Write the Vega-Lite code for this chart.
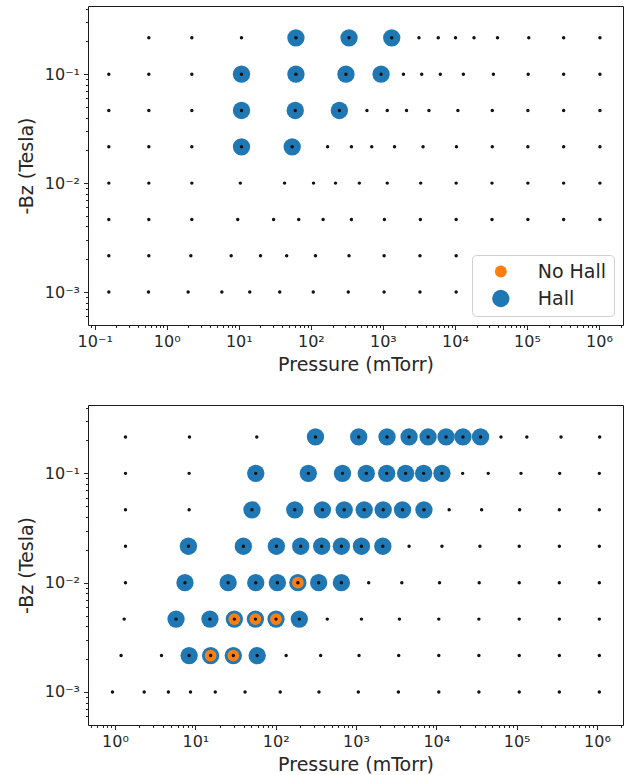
{
  "$schema": "https://vega.github.io/schema/vega-lite/v6.json",
  "autosize": {"type": "pad"},
  "padding": {"left": 16, "top": 0, "right": 5, "bottom": 2},
  "background": "white",
  "bounds": "flush",
  "spacing": 80,
  "config": {
    "font": "DejaVu Sans",
    "view": {"stroke": "#1a1a1a", "strokeWidth": 1},
    "axis": {
      "grid": false, "domain": false,
      "labelFont": "DejaVu Sans", "labelFontSize": 16, "labelColor": "#262626",
      "tickColor": "#262626", "tickWidth": 1,
      "titleFont": "DejaVu Sans", "titleFontSize": 19, "titleFontWeight": "normal", "titleColor": "#262626",
      "labelOverlap": false, "labelFlush": false, "labelPadding": 4
    },
    "legend": {
      "orient": "bottom-right", "offset": 9.5, "title": null,
      "labelFont": "DejaVu Sans", "labelFontSize": 19, "labelColor": "#262626",
      "padding": 7, "strokeColor": "#d0d0d0", "fillColor": "white", "cornerRadius": 4,
      "symbolOffset": 12.3, "labelOffset": 27.4, "rowPadding": 7,
      "symbolType": "circle", "symbolStrokeWidth": 0, "symbolOpacity": 1
    }
  },
  "datasets": {
    "top": [
      {"P": 62.1, "Bz": 0.2154, "case": "Hall"}, {"P": 339, "Bz": 0.2154, "case": "Hall"}, {"P": 1327, "Bz": 0.2154, "case": "Hall"},
      {"P": 10.9, "Bz": 0.1, "case": "Hall"}, {"P": 62.1, "Bz": 0.1, "case": "Hall"}, {"P": 307, "Bz": 0.1, "case": "Hall"}, {"P": 944, "Bz": 0.1, "case": "Hall"},
      {"P": 10.9, "Bz": 0.04642, "case": "Hall"}, {"P": 60.8, "Bz": 0.04642, "case": "Hall"}, {"P": 249, "Bz": 0.04642, "case": "Hall"},
      {"P": 10.9, "Bz": 0.02154, "case": "Hall"}, {"P": 55.1, "Bz": 0.02154, "case": "Hall"},

      {"P": 0.564, "Bz": 0.2154, "case": "grid"}, {"P": 2.23, "Bz": 0.2154, "case": "grid"}, {"P": 10.9, "Bz": 0.2154, "case": "grid"}, {"P": 62.1, "Bz": 0.2154, "case": "grid"}, {"P": 339, "Bz": 0.2154, "case": "grid"}, {"P": 1327, "Bz": 0.2154, "case": "grid"}, {"P": 3170, "Bz": 0.2154, "case": "grid"}, {"P": 5870, "Bz": 0.2154, "case": "grid"}, {"P": 10200, "Bz": 0.2154, "case": "grid"}, {"P": 18400, "Bz": 0.2154, "case": "grid"}, {"P": 39000, "Bz": 0.2154, "case": "grid"}, {"P": 106000, "Bz": 0.2154, "case": "grid"}, {"P": 323000, "Bz": 0.2154, "case": "grid"}, {"P": 1030000, "Bz": 0.2154, "case": "grid"},

      {"P": 0.157, "Bz": 0.1, "case": "grid"}, {"P": 0.564, "Bz": 0.1, "case": "grid"}, {"P": 2.23, "Bz": 0.1, "case": "grid"}, {"P": 10.9, "Bz": 0.1, "case": "grid"}, {"P": 62.1, "Bz": 0.1, "case": "grid"}, {"P": 307, "Bz": 0.1, "case": "grid"}, {"P": 944, "Bz": 0.1, "case": "grid"}, {"P": 1930, "Bz": 0.1, "case": "grid"}, {"P": 3460, "Bz": 0.1, "case": "grid"}, {"P": 6270, "Bz": 0.1, "case": "grid"}, {"P": 13100, "Bz": 0.1, "case": "grid"}, {"P": 34200, "Bz": 0.1, "case": "grid"}, {"P": 104000, "Bz": 0.1, "case": "grid"}, {"P": 323000, "Bz": 0.1, "case": "grid"}, {"P": 1030000, "Bz": 0.1, "case": "grid"},

      {"P": 0.157, "Bz": 0.04642, "case": "grid"}, {"P": 0.564, "Bz": 0.04642, "case": "grid"}, {"P": 2.23, "Bz": 0.04642, "case": "grid"}, {"P": 10.9, "Bz": 0.04642, "case": "grid"}, {"P": 60.8, "Bz": 0.04642, "case": "grid"}, {"P": 249, "Bz": 0.04642, "case": "grid"}, {"P": 601, "Bz": 0.04642, "case": "grid"}, {"P": 1150, "Bz": 0.04642, "case": "grid"}, {"P": 2130, "Bz": 0.04642, "case": "grid"}, {"P": 4360, "Bz": 0.04642, "case": "grid"}, {"P": 11000, "Bz": 0.04642, "case": "grid"}, {"P": 33000, "Bz": 0.04642, "case": "grid"}, {"P": 103000, "Bz": 0.04642, "case": "grid"}, {"P": 323000, "Bz": 0.04642, "case": "grid"}, {"P": 1030000, "Bz": 0.04642, "case": "grid"},

      {"P": 0.157, "Bz": 0.02154, "case": "grid"}, {"P": 0.564, "Bz": 0.02154, "case": "grid"}, {"P": 2.23, "Bz": 0.02154, "case": "grid"}, {"P": 10.9, "Bz": 0.02154, "case": "grid"}, {"P": 55.1, "Bz": 0.02154, "case": "grid"}, {"P": 171, "Bz": 0.02154, "case": "grid"}, {"P": 366, "Bz": 0.02154, "case": "grid"}, {"P": 701, "Bz": 0.02154, "case": "grid"}, {"P": 1450, "Bz": 0.02154, "case": "grid"}, {"P": 3610, "Bz": 0.02154, "case": "grid"}, {"P": 10500, "Bz": 0.02154, "case": "grid"}, {"P": 33000, "Bz": 0.02154, "case": "grid"}, {"P": 103000, "Bz": 0.02154, "case": "grid"}, {"P": 323000, "Bz": 0.02154, "case": "grid"}, {"P": 1030000, "Bz": 0.02154, "case": "grid"},

      {"P": 0.157, "Bz": 0.01, "case": "grid"}, {"P": 0.564, "Bz": 0.01, "case": "grid"}, {"P": 2.23, "Bz": 0.01, "case": "grid"}, {"P": 10.5, "Bz": 0.01, "case": "grid"}, {"P": 43.2, "Bz": 0.01, "case": "grid"}, {"P": 109, "Bz": 0.01, "case": "grid"}, {"P": 220, "Bz": 0.01, "case": "grid"}, {"P": 471, "Bz": 0.01, "case": "grid"}, {"P": 1150, "Bz": 0.01, "case": "grid"}, {"P": 3350, "Bz": 0.01, "case": "grid"}, {"P": 10400, "Bz": 0.01, "case": "grid"}, {"P": 32700, "Bz": 0.01, "case": "grid"}, {"P": 103000, "Bz": 0.01, "case": "grid"}, {"P": 323000, "Bz": 0.01, "case": "grid"}, {"P": 1030000, "Bz": 0.01, "case": "grid"},

      {"P": 0.157, "Bz": 0.004642, "case": "grid"}, {"P": 0.564, "Bz": 0.004642, "case": "grid"}, {"P": 2.23, "Bz": 0.004642, "case": "grid"}, {"P": 9.67, "Bz": 0.004642, "case": "grid"}, {"P": 30.4, "Bz": 0.004642, "case": "grid"}, {"P": 67.9, "Bz": 0.004642, "case": "grid"}, {"P": 148, "Bz": 0.004642, "case": "grid"}, {"P": 366, "Bz": 0.004642, "case": "grid"}, {"P": 1050, "Bz": 0.004642, "case": "grid"}, {"P": 3310, "Bz": 0.004642, "case": "grid"}, {"P": 10400, "Bz": 0.004642, "case": "grid"}, {"P": 32700, "Bz": 0.004642, "case": "grid"}, {"P": 103000, "Bz": 0.004642, "case": "grid"}, {"P": 323000, "Bz": 0.004642, "case": "grid"}, {"P": 1030000, "Bz": 0.004642, "case": "grid"},

      {"P": 0.157, "Bz": 0.002154, "case": "grid"}, {"P": 0.564, "Bz": 0.002154, "case": "grid"}, {"P": 2.16, "Bz": 0.002154, "case": "grid"}, {"P": 7.84, "Bz": 0.002154, "case": "grid"}, {"P": 20.0, "Bz": 0.002154, "case": "grid"}, {"P": 46.2, "Bz": 0.002154, "case": "grid"}, {"P": 116, "Bz": 0.002154, "case": "grid"}, {"P": 339, "Bz": 0.002154, "case": "grid"}, {"P": 1040, "Bz": 0.002154, "case": "grid"}, {"P": 3270, "Bz": 0.002154, "case": "grid"}, {"P": 10400, "Bz": 0.002154, "case": "grid"},

      {"P": 0.157, "Bz": 0.001, "case": "grid"}, {"P": 0.558, "Bz": 0.001, "case": "grid"}, {"P": 1.98, "Bz": 0.001, "case": "grid"}, {"P": 5.82, "Bz": 0.001, "case": "grid"}, {"P": 14.2, "Bz": 0.001, "case": "grid"}, {"P": 37.0, "Bz": 0.001, "case": "grid"}, {"P": 108, "Bz": 0.001, "case": "grid"}, {"P": 331, "Bz": 0.001, "case": "grid"}, {"P": 1040, "Bz": 0.001, "case": "grid"}, {"P": 3270, "Bz": 0.001, "case": "grid"}, {"P": 10400, "Bz": 0.001, "case": "grid"}
    ],
    "bottom": [
      {"P": 313, "Bz": 0.2154, "case": "Hall"}, {"P": 1081, "Bz": 0.2154, "case": "Hall"}, {"P": 2433, "Bz": 0.2154, "case": "Hall"}, {"P": 4580, "Bz": 0.2154, "case": "Hall"}, {"P": 7900, "Bz": 0.2154, "case": "Hall"}, {"P": 13220, "Bz": 0.2154, "case": "Hall"}, {"P": 21470, "Bz": 0.2154, "case": "Hall"}, {"P": 35540, "Bz": 0.2154, "case": "Hall"},
      {"P": 56.5, "Bz": 0.1, "case": "Hall"}, {"P": 255, "Bz": 0.1, "case": "Hall"}, {"P": 679, "Bz": 0.1, "case": "Hall"}, {"P": 1344, "Bz": 0.1, "case": "Hall"}, {"P": 2410, "Bz": 0.1, "case": "Hall"}, {"P": 4150, "Bz": 0.1, "case": "Hall"}, {"P": 6950, "Bz": 0.1, "case": "Hall"}, {"P": 11750, "Bz": 0.1, "case": "Hall"},
      {"P": 50.7, "Bz": 0.04642, "case": "Hall"}, {"P": 173, "Bz": 0.04642, "case": "Hall"}, {"P": 382, "Bz": 0.04642, "case": "Hall"}, {"P": 713, "Bz": 0.04642, "case": "Hall"}, {"P": 1265, "Bz": 0.04642, "case": "Hall"}, {"P": 2181, "Bz": 0.04642, "case": "Hall"}, {"P": 3796, "Bz": 0.04642, "case": "Hall"}, {"P": 7015, "Bz": 0.04642, "case": "Hall"},
      {"P": 8.2, "Bz": 0.02154, "case": "Hall"}, {"P": 39.6, "Bz": 0.02154, "case": "Hall"}, {"P": 102, "Bz": 0.02154, "case": "Hall"}, {"P": 205, "Bz": 0.02154, "case": "Hall"}, {"P": 374, "Bz": 0.02154, "case": "Hall"}, {"P": 658, "Bz": 0.02154, "case": "Hall"}, {"P": 1169, "Bz": 0.02154, "case": "Hall"}, {"P": 2159, "Bz": 0.02154, "case": "Hall"},
      {"P": 7.43, "Bz": 0.01, "case": "Hall"}, {"P": 25.6, "Bz": 0.01, "case": "Hall"}, {"P": 56.5, "Bz": 0.01, "case": "Hall"}, {"P": 105, "Bz": 0.01, "case": "Hall"}, {"P": 189, "Bz": 0.01, "case": "Hall"}, {"P": 343, "Bz": 0.01, "case": "Hall"}, {"P": 658, "Bz": 0.01, "case": "Hall"},
      {"P": 5.75, "Bz": 0.004642, "case": "Hall"}, {"P": 15.2, "Bz": 0.004642, "case": "Hall"}, {"P": 30.6, "Bz": 0.004642, "case": "Hall"}, {"P": 56.0, "Bz": 0.004642, "case": "Hall"}, {"P": 101, "Bz": 0.004642, "case": "Hall"}, {"P": 197, "Bz": 0.004642, "case": "Hall"},
      {"P": 8.37, "Bz": 0.002154, "case": "Hall"}, {"P": 15.5, "Bz": 0.002154, "case": "Hall"}, {"P": 29.7, "Bz": 0.002154, "case": "Hall"}, {"P": 58.9, "Bz": 0.002154, "case": "Hall"},

      {"P": 189, "Bz": 0.01, "case": "No Hall"},
      {"P": 30.6, "Bz": 0.004642, "case": "No Hall"}, {"P": 56.0, "Bz": 0.004642, "case": "No Hall"}, {"P": 101, "Bz": 0.004642, "case": "No Hall"},
      {"P": 15.5, "Bz": 0.002154, "case": "No Hall"}, {"P": 29.7, "Bz": 0.002154, "case": "No Hall"},

      {"P": 1.35, "Bz": 0.2154, "case": "grid"}, {"P": 8.45, "Bz": 0.2154, "case": "grid"}, {"P": 58.2, "Bz": 0.2154, "case": "grid"}, {"P": 313, "Bz": 0.2154, "case": "grid"}, {"P": 1081, "Bz": 0.2154, "case": "grid"}, {"P": 2433, "Bz": 0.2154, "case": "grid"}, {"P": 4580, "Bz": 0.2154, "case": "grid"}, {"P": 7900, "Bz": 0.2154, "case": "grid"}, {"P": 13220, "Bz": 0.2154, "case": "grid"}, {"P": 21470, "Bz": 0.2154, "case": "grid"}, {"P": 35540, "Bz": 0.2154, "case": "grid"}, {"P": 63800, "Bz": 0.2154, "case": "grid"}, {"P": 134000, "Bz": 0.2154, "case": "grid"}, {"P": 357000, "Bz": 0.2154, "case": "grid"}, {"P": 1080000, "Bz": 0.2154, "case": "grid"},

      {"P": 1.35, "Bz": 0.1, "case": "grid"}, {"P": 8.37, "Bz": 0.1, "case": "grid"}, {"P": 56.5, "Bz": 0.1, "case": "grid"}, {"P": 255, "Bz": 0.1, "case": "grid"}, {"P": 679, "Bz": 0.1, "case": "grid"}, {"P": 1344, "Bz": 0.1, "case": "grid"}, {"P": 2410, "Bz": 0.1, "case": "grid"}, {"P": 4150, "Bz": 0.1, "case": "grid"}, {"P": 6950, "Bz": 0.1, "case": "grid"}, {"P": 11750, "Bz": 0.1, "case": "grid"}, {"P": 21280, "Bz": 0.1, "case": "grid"}, {"P": 44260, "Bz": 0.1, "case": "grid"}, {"P": 113300, "Bz": 0.1, "case": "grid"}, {"P": 343500, "Bz": 0.1, "case": "grid"}, {"P": 1070000, "Bz": 0.1, "case": "grid"},

      {"P": 1.35, "Bz": 0.04642, "case": "grid"}, {"P": 8.37, "Bz": 0.04642, "case": "grid"}, {"P": 50.7, "Bz": 0.04642, "case": "grid"}, {"P": 173, "Bz": 0.04642, "case": "grid"}, {"P": 382, "Bz": 0.04642, "case": "grid"}, {"P": 713, "Bz": 0.04642, "case": "grid"}, {"P": 1265, "Bz": 0.04642, "case": "grid"}, {"P": 2181, "Bz": 0.04642, "case": "grid"}, {"P": 3796, "Bz": 0.04642, "case": "grid"}, {"P": 7015, "Bz": 0.04642, "case": "grid"}, {"P": 14450, "Bz": 0.04642, "case": "grid"}, {"P": 36650, "Bz": 0.04642, "case": "grid"}, {"P": 108900, "Bz": 0.04642, "case": "grid"}, {"P": 340000, "Bz": 0.04642, "case": "grid"}, {"P": 1070000, "Bz": 0.04642, "case": "grid"},

      {"P": 1.35, "Bz": 0.02154, "case": "grid"}, {"P": 8.2, "Bz": 0.02154, "case": "grid"}, {"P": 39.6, "Bz": 0.02154, "case": "grid"}, {"P": 102, "Bz": 0.02154, "case": "grid"}, {"P": 205, "Bz": 0.02154, "case": "grid"}, {"P": 374, "Bz": 0.02154, "case": "grid"}, {"P": 658, "Bz": 0.02154, "case": "grid"}, {"P": 1169, "Bz": 0.02154, "case": "grid"}, {"P": 2159, "Bz": 0.02154, "case": "grid"}, {"P": 4580, "Bz": 0.02154, "case": "grid"}, {"P": 11750, "Bz": 0.02154, "case": "grid"}, {"P": 34900, "Bz": 0.02154, "case": "grid"}, {"P": 107700, "Bz": 0.02154, "case": "grid"}, {"P": 340000, "Bz": 0.02154, "case": "grid"}, {"P": 1070000, "Bz": 0.02154, "case": "grid"},

      {"P": 1.35, "Bz": 0.01, "case": "grid"}, {"P": 7.43, "Bz": 0.01, "case": "grid"}, {"P": 25.6, "Bz": 0.01, "case": "grid"}, {"P": 56.5, "Bz": 0.01, "case": "grid"}, {"P": 105, "Bz": 0.01, "case": "grid"}, {"P": 189, "Bz": 0.01, "case": "grid"}, {"P": 343, "Bz": 0.01, "case": "grid"}, {"P": 658, "Bz": 0.01, "case": "grid"}, {"P": 1439, "Bz": 0.01, "case": "grid"}, {"P": 3720, "Bz": 0.01, "case": "grid"}, {"P": 10960, "Bz": 0.01, "case": "grid"}, {"P": 34200, "Bz": 0.01, "case": "grid"}, {"P": 107700, "Bz": 0.01, "case": "grid"}, {"P": 340000, "Bz": 0.01, "case": "grid"}, {"P": 1070000, "Bz": 0.01, "case": "grid"},

      {"P": 1.30, "Bz": 0.004642, "case": "grid"}, {"P": 5.75, "Bz": 0.004642, "case": "grid"}, {"P": 15.2, "Bz": 0.004642, "case": "grid"}, {"P": 30.6, "Bz": 0.004642, "case": "grid"}, {"P": 56.0, "Bz": 0.004642, "case": "grid"}, {"P": 101, "Bz": 0.004642, "case": "grid"}, {"P": 197, "Bz": 0.004642, "case": "grid"}, {"P": 439, "Bz": 0.004642, "case": "grid"}, {"P": 1169, "Bz": 0.004642, "case": "grid"}, {"P": 3474, "Bz": 0.004642, "case": "grid"}, {"P": 10740, "Bz": 0.004642, "case": "grid"}, {"P": 33900, "Bz": 0.004642, "case": "grid"}, {"P": 107700, "Bz": 0.004642, "case": "grid"}, {"P": 340000, "Bz": 0.004642, "case": "grid"}, {"P": 1070000, "Bz": 0.004642, "case": "grid"},

      {"P": 1.19, "Bz": 0.002154, "case": "grid"}, {"P": 3.79, "Bz": 0.002154, "case": "grid"}, {"P": 8.37, "Bz": 0.002154, "case": "grid"}, {"P": 15.5, "Bz": 0.002154, "case": "grid"}, {"P": 29.7, "Bz": 0.002154, "case": "grid"}, {"P": 58.9, "Bz": 0.002154, "case": "grid"}, {"P": 135, "Bz": 0.002154, "case": "grid"}, {"P": 363, "Bz": 0.002154, "case": "grid"}, {"P": 1091, "Bz": 0.002154, "case": "grid"}, {"P": 3404, "Bz": 0.002154, "case": "grid"}, {"P": 10740, "Bz": 0.002154, "case": "grid"}, {"P": 33900, "Bz": 0.002154, "case": "grid"}, {"P": 107700, "Bz": 0.002154, "case": "grid"}, {"P": 340000, "Bz": 0.002154, "case": "grid"}, {"P": 1070000, "Bz": 0.002154, "case": "grid"},

      {"P": 0.93, "Bz": 0.001, "case": "grid"}, {"P": 2.31, "Bz": 0.001, "case": "grid"}, {"P": 4.62, "Bz": 0.001, "case": "grid"}, {"P": 8.71, "Bz": 0.001, "case": "grid"}, {"P": 17.7, "Bz": 0.001, "case": "grid"}, {"P": 41.6, "Bz": 0.001, "case": "grid"}, {"P": 114, "Bz": 0.001, "case": "grid"}, {"P": 346, "Bz": 0.001, "case": "grid"}, {"P": 1069, "Bz": 0.001, "case": "grid"}, {"P": 3373, "Bz": 0.001, "case": "grid"}, {"P": 10740, "Bz": 0.001, "case": "grid"}, {"P": 33900, "Bz": 0.001, "case": "grid"}, {"P": 107700, "Bz": 0.001, "case": "grid"}, {"P": 340000, "Bz": 0.001, "case": "grid"}, {"P": 1070000, "Bz": 0.001, "case": "grid"}
    ]
  },
  "vconcat": [
    {
      "width": 535,
      "height": 319,
      "data": {"name": "top"},
      "encoding": {
        "x": {
          "field": "P", "type": "quantitative",
          "scale": {"type": "log", "domain": [0.0807, 2153000], "nice": false},
          "axis": {
            "title": "Pressure (mTorr)", "titlePadding": 6,
            "values": [0.09, 0.1, 0.2, 0.3, 0.4, 0.5, 0.6, 0.7, 0.8, 0.9, 1, 2, 3, 4, 5, 6, 7, 8, 9, 10, 20, 30, 40, 50, 60, 70, 80, 90, 100, 200, 300, 400, 500, 600, 700, 800, 900, 1000, 2000, 3000, 4000, 5000, 6000, 7000, 8000, 9000, 10000, 20000, 30000, 40000, 50000, 60000, 70000, 80000, 90000, 100000, 200000, 300000, 400000, 500000, 600000, 700000, 800000, 900000, 1000000, 2000000],
            "labelExpr": "abs(log(datum.value)/LN10 - round(log(datum.value)/LN10)) < 0.001 ? '10' + ['⁻³','⁻²','⁻¹','⁰','¹','²','³','⁴','⁵','⁶'][round(log(datum.value)/LN10) + 3] : ''",
            "tickSize": {"condition": {"test": "abs(log(datum.value)/LN10 - round(log(datum.value)/LN10)) < 0.001", "value": 4.5}, "value": 2.5}
          }
        },
        "y": {
          "field": "Bz", "type": "quantitative",
          "scale": {"type": "log", "domain": [0.000499, 0.422], "nice": false},
          "axis": {
            "title": "-Bz (Tesla)", "titlePadding": 8,
            "values": [0.0006, 0.0007, 0.0008, 0.0009, 0.001, 0.002, 0.003, 0.004, 0.005, 0.006, 0.007, 0.008, 0.009, 0.01, 0.02, 0.03, 0.04, 0.05, 0.06, 0.07, 0.08, 0.09, 0.1, 0.2, 0.3, 0.4],
            "labelExpr": "abs(log(datum.value)/LN10 - round(log(datum.value)/LN10)) < 0.001 ? '10' + ['⁻³','⁻²','⁻¹','⁰','¹','²','³','⁴','⁵','⁶'][round(log(datum.value)/LN10) + 3] : ''",
            "tickSize": {"condition": {"test": "abs(log(datum.value)/LN10 - round(log(datum.value)/LN10)) < 0.001", "value": 4.5}, "value": 2.5}
          }
        }
      },
      "layer": [
        {
          "transform": [{"filter": "datum.case != 'grid'"}],
          "mark": {"type": "circle", "opacity": 1},
          "encoding": {
            "color": {"field": "case", "type": "nominal", "scale": {"domain": ["No Hall", "Hall"], "range": ["#ff7f0e", "#1f77b4"]}},
            "size": {"field": "case", "type": "nominal", "scale": {"domain": ["No Hall", "Hall"], "range": [140, 300]}}
          }
        },
        {
          "transform": [{"filter": "datum.case == 'grid'"}],
          "mark": {"type": "circle", "opacity": 1, "size": 12, "color": "#111111"},
          "encoding": {}
        }
      ]
    },
    {
      "width": 535,
      "height": 320,
      "data": {"name": "bottom"},
      "encoding": {
        "x": {
          "field": "P", "type": "quantitative",
          "scale": {"type": "log", "domain": [0.461, 2109000], "nice": false},
          "axis": {
            "title": "Pressure (mTorr)", "titlePadding": 6,
            "values": [0.5, 0.6, 0.7, 0.8, 0.9, 1, 2, 3, 4, 5, 6, 7, 8, 9, 10, 20, 30, 40, 50, 60, 70, 80, 90, 100, 200, 300, 400, 500, 600, 700, 800, 900, 1000, 2000, 3000, 4000, 5000, 6000, 7000, 8000, 9000, 10000, 20000, 30000, 40000, 50000, 60000, 70000, 80000, 90000, 100000, 200000, 300000, 400000, 500000, 600000, 700000, 800000, 900000, 1000000, 2000000],
            "labelExpr": "abs(log(datum.value)/LN10 - round(log(datum.value)/LN10)) < 0.001 ? '10' + ['⁻³','⁻²','⁻¹','⁰','¹','²','³','⁴','⁵','⁶'][round(log(datum.value)/LN10) + 3] : ''",
            "tickSize": {"condition": {"test": "abs(log(datum.value)/LN10 - round(log(datum.value)/LN10)) < 0.001", "value": 4.5}, "value": 2.5}
          }
        },
        "y": {
          "field": "Bz", "type": "quantitative",
          "scale": {"type": "log", "domain": [0.000499, 0.422], "nice": false},
          "axis": {
            "title": "-Bz (Tesla)", "titlePadding": 8,
            "values": [0.0006, 0.0007, 0.0008, 0.0009, 0.001, 0.002, 0.003, 0.004, 0.005, 0.006, 0.007, 0.008, 0.009, 0.01, 0.02, 0.03, 0.04, 0.05, 0.06, 0.07, 0.08, 0.09, 0.1, 0.2, 0.3, 0.4],
            "labelExpr": "abs(log(datum.value)/LN10 - round(log(datum.value)/LN10)) < 0.001 ? '10' + ['⁻³','⁻²','⁻¹','⁰','¹','²','³','⁴','⁵','⁶'][round(log(datum.value)/LN10) + 3] : ''",
            "tickSize": {"condition": {"test": "abs(log(datum.value)/LN10 - round(log(datum.value)/LN10)) < 0.001", "value": 4.5}, "value": 2.5}
          }
        }
      },
      "layer": [
        {
          "transform": [{"filter": "datum.case != 'grid'"}],
          "mark": {"type": "circle", "opacity": 1},
          "encoding": {
            "color": {"field": "case", "type": "nominal", "scale": {"domain": ["No Hall", "Hall"], "range": ["#ff7f0e", "#1f77b4"]}, "legend": null},
            "size": {"field": "case", "type": "nominal", "scale": {"domain": ["No Hall", "Hall"], "range": [140, 300]}, "legend": null}
          }
        },
        {
          "transform": [{"filter": "datum.case == 'grid'"}],
          "mark": {"type": "circle", "opacity": 1, "size": 12, "color": "#111111"},
          "encoding": {}
        }
      ]
    }
  ],
  "resolve": {
    "scale": {"x": "independent", "y": "independent", "color": "independent", "size": "independent"},
    "legend": {"color": "independent", "size": "independent"}
  }
}
